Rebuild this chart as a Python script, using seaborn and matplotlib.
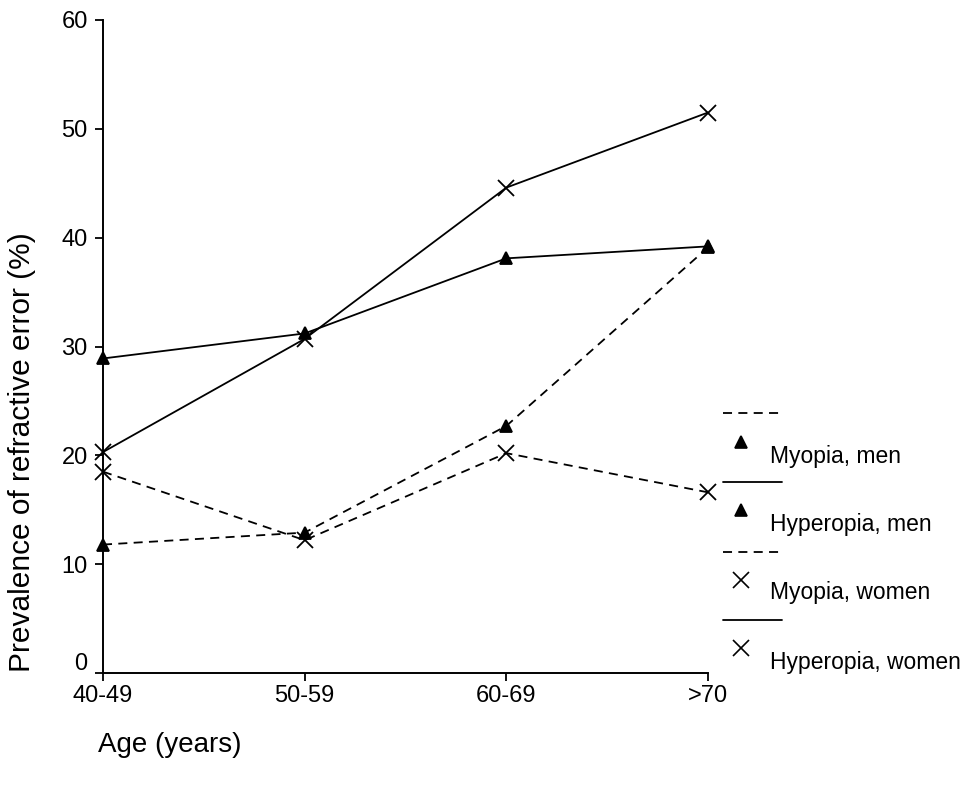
import pandas as pd
import seaborn as sns
import matplotlib.pyplot as plt
from matplotlib.lines import Line2D
import matplotlib.transforms as mtransforms

# Values
ages = ['40-49', '50-59', '60-69', '>70']
myopia_men = [11.8, 12.9, 22.7, 39.1]
hyperopia_men = [28.9, 31.2, 38.1, 39.2]
myopia_women = [18.5, 12.2, 20.2, 16.6]
hyperopia_women = [20.3, 30.7, 44.6, 51.5]

sns.set_style('white')
plt.rcParams['font.family'] = ['Liberation Sans', 'DejaVu Sans']
plt.rcParams['text.color'] = 'black'
plt.rcParams['xtick.color'] = 'black'
plt.rcParams['ytick.color'] = 'black'

fig = plt.figure(figsize=(9.68, 7.86), dpi=100)
ax = fig.add_axes([103 / 968, 1 - 673 / 786, 605 / 968, 653 / 786])

series = [
    ('Myopia, men', myopia_men, (0, (5, 3.5)), '^'),
    ('Hyperopia, men', hyperopia_men, '-', '^'),
    ('Myopia, women', myopia_women, (0, (5, 3.5)), 'x'),
    ('Hyperopia, women', hyperopia_women, '-', 'x'),
]

for name, vals, ls, mk in series:
    df = pd.DataFrame({'age': ages, 'value': vals})
    sns.lineplot(data=df, x='age', y='value', ax=ax, sort=False, color='black',
                 linewidth=1.3, linestyle=ls, marker=mk, clip_on=False, zorder=3,
                 markersize=9 if mk == '^' else 12, markeredgewidth=1.3,
                 markerfacecolor='black', markeredgecolor='black')

ax.set_xlim(0, 3)
ax.set_ylim(0, 60)
ax.set_yticks(range(0, 61, 10))
sns.despine(ax=ax)
for side in ['left', 'bottom']:
    ax.spines[side].set_color('black')
    ax.spines[side].set_linewidth(1.4)
ax.tick_params(axis='both', direction='out', length=6, width=1.3, color='black',
               labelcolor='black', labelsize=17, pad=5, bottom=True, left=True)
ax.tick_params(axis='x', pad=3)

# the "0" label sits a little higher in the original
lab0 = ax.get_yticklabels()[0]
lab0.set_transform(lab0.get_transform() + mtransforms.ScaledTranslation(0, 0.12, fig.dpi_scale_trans))

ax.set_xlabel('')
ax.set_ylabel('')
fig.text(22 / 968, 1 - 452 / 786, 'Prevalence of refractive error (%)', rotation=90,
         fontsize=21.5, ha='center', va='center')
fig.text(98 / 968, 1 - 745 / 786, 'Age (years)', fontsize=20, ha='left', va='center')

# legend: line above, marker below with label to the right
leg_y = [(413, 442, 456), (482, 510, 525), (552, 580, 593), (620, 648, 662)]
for (name, vals, ls, mk), (ly, my, ty) in zip(series, leg_y):
    fig.add_artist(Line2D([723 / 968, 782 / 968], [1 - ly / 786] * 2, color='black',
                          linewidth=1.3, linestyle=ls, transform=fig.transFigure))
    fig.add_artist(Line2D([741 / 968], [1 - my / 786], color='black', marker=mk,
                          markersize=8 if mk == '^' else 11, markeredgewidth=1.2,
                          linestyle='none', transform=fig.transFigure))
    fig.text(770 / 968, 1 - ty / 786, name, fontsize=16.5, ha='left', va='center')

fig.savefig('out.png', dpi=100)
